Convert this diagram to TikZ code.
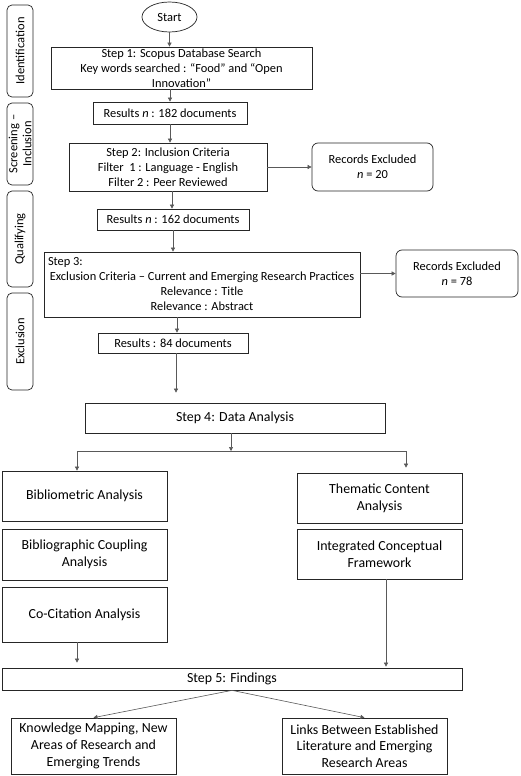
\documentclass[tikz,border=0pt]{standalone}
\usepackage{fontspec}
\setmainfont{Carlito}
\usetikzlibrary{shapes.geometric,arrows.meta,calc}
\begin{document}
\begin{tikzpicture}[x=1pt,y=-1pt,
  txt/.style={font=\fontsize{12.4}{15}\selectfont},
  big/.style={font=\fontsize{13.9}{16.7}\selectfont},
  box/.style={txt,draw=black!85,line width=0.7pt,inner sep=1pt,align=center},
  bbox/.style={box,big},
  rbox/.style={box,rounded corners=6pt},
  side/.style={draw=black!85,line width=0.7pt,rounded corners=5pt,rotate=90,align=center,inner sep=0pt,font=\fontsize{12.5}{14}\selectfont},
  conn/.style={draw=black!65,line width=0.6pt,-{Triangle[length=4pt,width=4pt]}},
  plain/.style={draw=black!65,line width=0.6pt}
]
\fill[white] (0,0) rectangle (520,776);
\useasboundingbox (0,0) rectangle (520,776);

% side labels
\node[side,minimum width=92pt,minimum height=26pt] (sid) at (20,51) {Identification};
\node[side,minimum width=82pt,minimum height=26pt] (ssc) at (20,144) {Screening –\\Inclusion};
\node[side,minimum width=96pt,minimum height=26pt] (squ) at (20,239) {Qualifying};
\node[side,minimum width=97pt,minimum height=26pt] (sex) at (20,341.5) {Exclusion};

% main flow
\node[box,ellipse,inner sep=0pt,minimum width=55pt,minimum height=30pt,font=\fontsize{12.5}{15}\selectfont] (start) at (169.5,17) {Start};
\node[box,minimum width=261pt,minimum height=42pt] (s1) at (181.5,68) {Step 1: Scopus Database Search\\Key words searched : “Food” and “Open\\Innovation”};
\node[box,minimum width=154pt,minimum height=22pt] (r1) at (170,113) {Results \textit{n} : 182 documents};
\node[box,minimum width=198pt,minimum height=48pt] (s2) at (168,167) {Step 2: Inclusion Criteria\\Filter\ \ 1 : Language - English\\Filter 2 : Peer Reviewed};
\node[rbox,minimum width=121pt,minimum height=48pt] (ex1) at (372.5,167) {Records Excluded\\\textit{n} = 20};
\node[box,minimum width=152pt,minimum height=21pt] (r2) at (173,219.5) {Results \textit{n} : 162 documents};
\node[box,minimum width=316pt,minimum height=65pt] (s3) at (202,284.5) {\makebox[308pt][l]{Step 3:}\\Exclusion Criteria – Current and Emerging Research Practices\\Relevance : Title\\Relevance : Abstract};
\node[rbox,minimum width=122pt,minimum height=47pt] (ex2) at (457,273.5) {Records Excluded\\\textit{n} = 78};
\node[box,minimum width=150pt,minimum height=20pt] (r3) at (173,343) {Results : 84 documents};
\node[bbox,minimum width=300pt,minimum height=30pt] (s4) at (235,418) {Step 4: Data Analysis};

\node[bbox,minimum width=165pt,minimum height=50pt] (bib) at (84.5,496) {Bibliometric Analysis};
\node[bbox,minimum width=165pt,minimum height=51pt] (coup) at (84.5,554.5) {Bibliographic Coupling\\Analysis};
\node[bbox,minimum width=165pt,minimum height=55pt] (cocit) at (84.5,614.5) {Co-Citation Analysis};
\node[bbox,minimum width=165pt,minimum height=50pt] (them) at (379.5,498) {Thematic Content\\Analysis};
\node[bbox,minimum width=165pt,minimum height=50pt] (integ) at (379.5,554) {Integrated Conceptual\\Framework};

\node[bbox,minimum width=460pt,minimum height=22pt] (s5) at (232,679) {Step 5: Findings};
\node[bbox,minimum width=165pt,minimum height=56pt] (know) at (93.5,746) {Knowledge Mapping, New\\Areas of Research and\\Emerging Trends};
\node[bbox,minimum width=165pt,minimum height=56pt] (links) at (364.5,746) {Links Between Established\\Literature and Emerging\\Research Areas};

% junction coordinates
\coordinate (jc) at (231,451);
\coordinate (jl) at (77,451);
\coordinate (jr) at (406,451);

% connectors
\draw[conn] (start.south) -- (start.south |- s1.north);
\draw[conn] (s1.south -| r1) -- (r1.north);
\draw[conn] (r1.south) -- (r1.south |- s2.north);
\draw[conn] (s2.east) -- (ex1.west);
\draw[conn] ([xshift=2pt]r1.south |- s2.south) -- ([xshift=2pt]r1.south |- r2.north);
\draw[conn] (r2.south) -- (r2.south |- s3.north);
\draw[conn] (s3.east |- ex2.west) -- (ex2.west);
\draw[conn] ([xshift=4pt]r3.north |- s3.south) -- ([xshift=4pt]r3.north);
\draw[conn,shorten >=10pt] ([xshift=3pt]r3.south) -- ([xshift=3pt]r3.south |- s4.north);
\draw[conn] (s4.south -| jc) -- (jc);
\draw[plain] (jl) -- (jr);
\draw[conn] (jl) -- (jl |- bib.north);
\draw[conn,shorten >=5pt] (jr) -- (jr |- them.north);
\draw[conn,shorten >=5pt] (cocit.south -| jl) -- (s5.north -| jl);
\draw[conn,shorten >=1pt] ([xshift=6.5pt]integ.south) -- ([xshift=6.5pt]integ.south |- s5.north);
\draw[conn] (s5.south) -- (know.north);
\draw[conn] (s5.south) -- (links.north);
\end{tikzpicture}
\end{document}
